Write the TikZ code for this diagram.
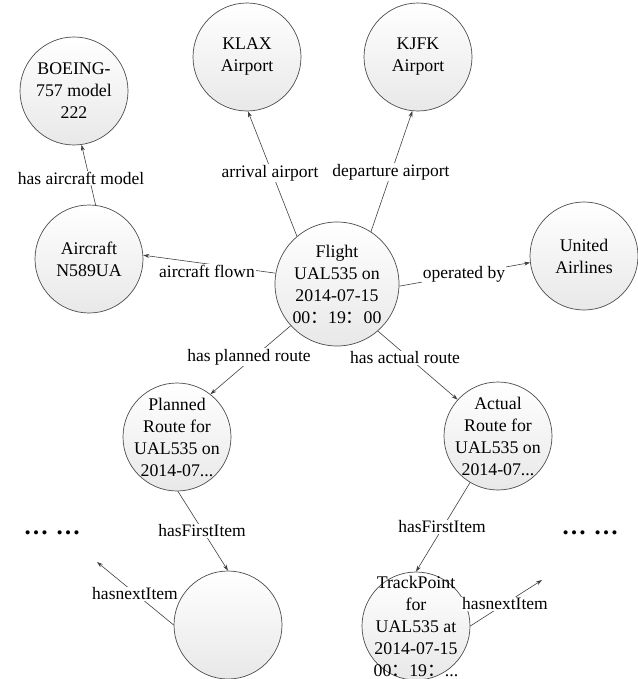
\documentclass[tikz,border=0pt]{standalone}
\usepackage{fontspec}
\setmainfont{Liberation Serif}
\newfontfamily\cjk{Noto Sans CJK SC}
\usetikzlibrary{arrows.meta,shadings}
\newcommand{\fwc}{{\cjk ：}}
\begin{document}
\begin{tikzpicture}[x=1pt,y=-1pt,
 vertex/.style={circle, draw=black!70, line width=0.7pt, top color=white, bottom color=black!9, minimum size=108pt, inner sep=0pt},
 vtext/.style={align=center, font=\fontsize{17.8}{22}\selectfont, inner sep=0pt},
 edge/.style={draw=black!75, line width=0.6pt, -{Stealth[length=6pt,width=4pt]}},
 lbl/.style={fill=white, inner sep=1pt, font=\fontsize{17.5}{22}\selectfont},
 dotsstyle/.style={inner sep=0pt, font=\fontsize{25}{28}\selectfont\bfseries}]
\useasboundingbox (0,0) rectangle (637,679);
% circles
\node[vertex] (boeing) at (74,91) {};
\node[vertex] (aircraft) at (89,259) {};
\node[vertex] (klax) at (247,57) {};
\node[vertex] (kjfk) at (418,57) {};
\node[vertex] (united) at (584,256) {};
\node[vertex, minimum size=124pt] (flight) at (337,284) {};
\node[vertex] (planned) at (177,437) {};
\node[vertex] (actual) at (498,436) {};
\node[vertex] (blank) at (228,625) {};
\node[vertex] (track) at (416,626) {};
% texts
\node[vtext] (boeingt) at (boeing) {BOEING-\\757 model\\222};
\node[vtext] (aircraftt) at (aircraft) {Aircraft\\N589UA};
\node[vtext] (klaxt) at (klax) {KLAX\\Airport};
\node[vtext] (kjfkt) at (kjfk) {KJFK\\Airport};
\node[vtext] (unitedt) at (united) {United\\Airlines};
\node[vtext] (flightt) at (flight) {Flight\\UAL535 on\\2014-07-15\\00\fwc 19\fwc 00};
\node[vtext] (plannedt) at (planned) {Planned\\Route for\\UAL535 on\\2014-07...};
\node[vtext] (actualt) at (actual) {Actual\\Route for\\UAL535 on\\2014-07...};
\node[vtext] (trackt) at (track) {TrackPoint\\for\\UAL535 at\\2014-07-15\\00\fwc 19\fwc ...};
% free ends
\coordinate (nl) at (97,562);
\coordinate (nr) at (542,580);
% connectors
\draw[edge] (aircraft.83) -- (boeing.278);
\draw[edge] (flight.170) -- (aircraft.4);
\draw[edge] (flight.130) -- (klax.271);
\draw[edge] (flight.57) -- (kjfk.264);
\draw[edge] (flight.-2) -- (united.187);
\draw[edge] (flight.222) -- (planned.52);
\draw[edge] (flight.311) -- (actual.138);
\draw[edge] (planned.271) -- (blank.90);
\draw[edge] (actual.239) -- (track.90);
\draw[edge] (blank.180) -- (nl);
\draw[edge] (track.0) -- (nr);
% labels
\node[lbl] (l1) at (81,178) {has aircraft model};
\node[lbl] (l2) at (207,271) {aircraft flown};
\node[lbl] (l3) at (270,173) {arrival airport};
\node[lbl] (l4) at (391,172) {departure airport};
\node[lbl] (l5) at (464,274) {operated by};
\node[lbl] (l6) at (249,357) {has planned route};
\node[lbl] (l7) at (405,358) {has actual route};
\node[lbl] (l8) at (202,531) {hasFirstItem};
\node[lbl] (l9) at (442,527) {hasFirstItem};
\node[lbl] (l10) at (135,594) {hasnextItem};
\node[lbl] (l11) at (505,604) {hasnextItem};
\node[dotsstyle] (dl) at (52,533) {…\hspace{7pt}…};
\node[dotsstyle] (dr) at (590,533) {…\hspace{7pt}…};
\end{tikzpicture}
\end{document}
